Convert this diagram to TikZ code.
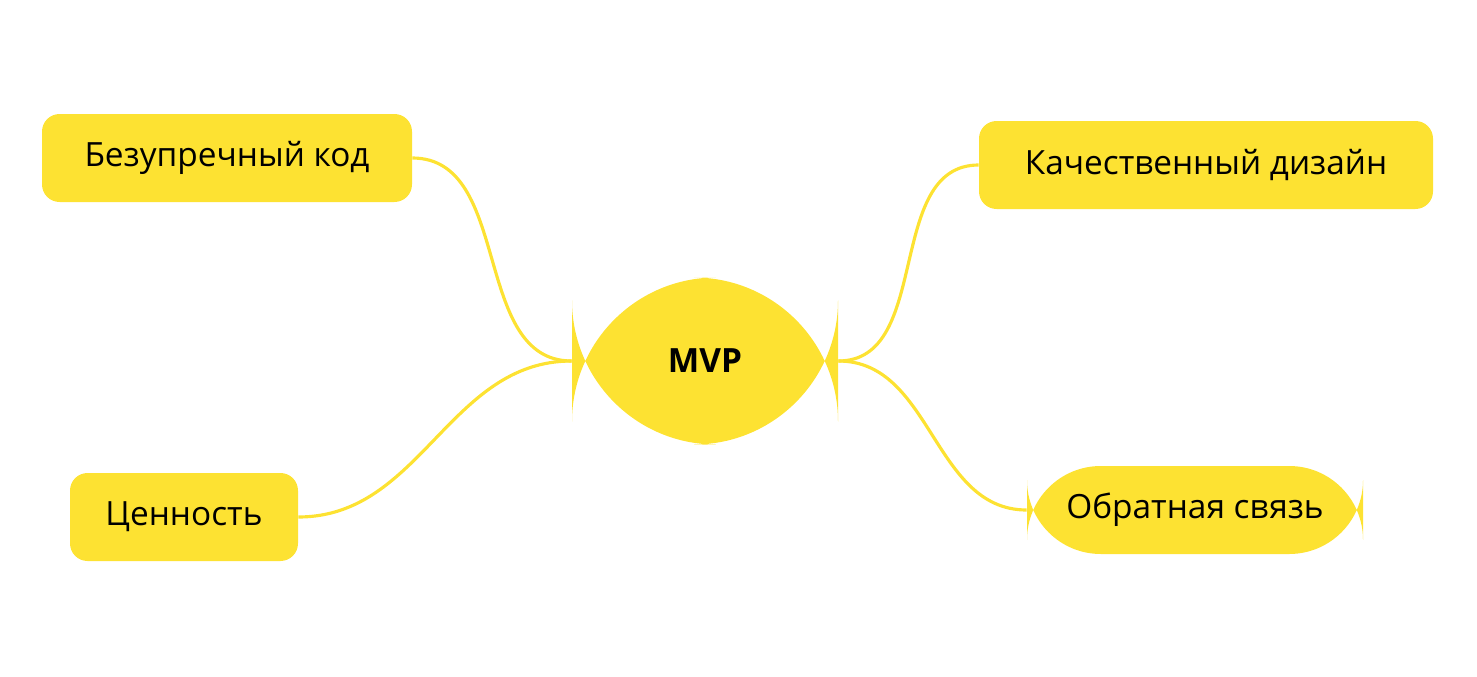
\documentclass[tikz,border=0pt]{standalone}
\usepackage{fontspec}
\setmainfont{Open Sans}
\definecolor{mapyellow}{HTML}{FDE232}
\begin{document}
\begin{tikzpicture}[x=0.02cm,y=-0.02cm,
    topic/.style={fill=mapyellow, rounded corners=10, minimum height=88*0.02cm, inner xsep=0.5cm, font=\fontsize{19}{22}\selectfont},
    link/.style={draw=mapyellow, line width=1.8pt}]
  \useasboundingbox (0,0) rectangle (1477,676);
  \node [fill=mapyellow, rounded corners=82, minimum width=266*0.02cm, minimum height=167*0.02cm, font=\fontsize{19}{22}\selectfont\bfseries] (mvp) at (705,361) {MVP};
  \node [topic, minimum width=370*0.02cm] (code) at (227,158) {Безупречный код};
  \node [topic, minimum width=228*0.02cm] (value) at (184,517) {Ценность};
  \node [topic, minimum width=454*0.02cm] (design) at (1206,165) {Качественный дизайн};
  \node [topic, rounded corners=42, minimum width=336*0.02cm] (feedback) at (1195,510) {Обратная связь};
  \draw [link] (code.east) to[out=0, in=180] (mvp.west);
  \draw [link] (value.east) to[out=0, in=180] (mvp.west);
  \draw [link] (design.west) to[out=180, in=0] (mvp.east);
  \draw [link] (feedback.west) to[out=180, in=0] (mvp.east);
\end{tikzpicture}
\end{document}
